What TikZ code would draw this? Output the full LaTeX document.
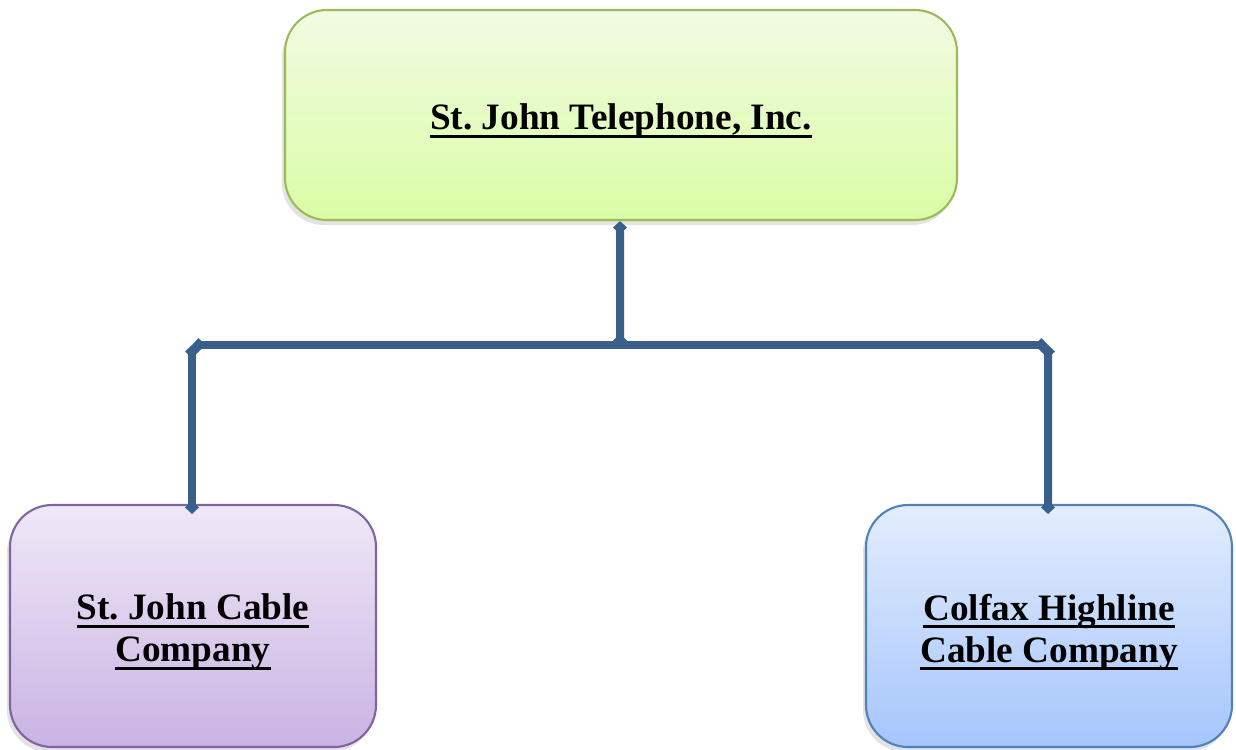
\documentclass[tikz,border=0pt]{standalone}
\usepackage{fontspec}
\setmainfont{Liberation Serif}
\usetikzlibrary{arrows.meta,shadows}

\newcommand{\ulbox}[1]{\setbox0\hbox{#1}\rlap{\rule[-2.3pt]{\wd0}{0.9pt}}\box0}

\definecolor{linkblue}{HTML}{3A5F8B}
\definecolor{greenline}{HTML}{9BBB59}
\definecolor{purpleline}{HTML}{8064A2}
\definecolor{blueline}{HTML}{4F81BD}

\tikzset{
  orgbox/.style={rounded corners=0.42cm, line width=0.6pt, inner sep=0pt,
    drop shadow={shadow xshift=-0.03cm, shadow yshift=-0.05cm, opacity=0.22}},
  orgtext/.style={align=center, inner sep=0pt, yshift=-0.06cm,
    font=\fontsize{10.6}{12}\selectfont\bfseries\frenchspacing},
  link/.style={linkblue, line width=0.08cm, {Diamond[length=0.13cm,width=0.14cm]}-{Diamond[length=0.13cm,width=0.14cm]}}
}

\begin{document}
\begin{tikzpicture}

\useasboundingbox (0,0) rectangle (12.36,7.49);

% parent company
\node[orgbox, draw=greenline, top color={rgb,255:red,241;green,251;blue,226}, bottom color={rgb,255:red,218;green,252;blue,165},
  minimum width=6.72cm, minimum height=2.10cm] (tel) at (6.21,6.34) {};
\node[orgtext] (telname) at (tel) {\ulbox{St. John Telephone, Inc.}};

% subsidiaries
\node[orgbox, draw=purpleline, top color={rgb,255:red,239;green,232;blue,247}, bottom color={rgb,255:red,201;green,179;blue,227},
  minimum width=3.66cm, minimum height=2.42cm] (cab) at (1.93,1.23) {};
\node[orgtext] (cabname) at (cab) {\ulbox{St. John Cable}\\\ulbox{Company}};

\node[orgbox, draw=blueline, top color={rgb,255:red,227;green,237;blue,253}, bottom color={rgb,255:red,165;green,197;blue,251},
  minimum width=3.66cm, minimum height=2.42cm] (col) at (10.49,1.23) {};
\node[orgtext] (colname) at (col) {\ulbox{Colfax Highline}\\\ulbox{Cable Company}};

\coordinate (mid) at (6.20,4.02);
\coordinate (jl) at (1.92,4.04);
\coordinate (jr) at (10.48,4.04);

\draw[link] ([xshift=-0.01cm]tel.south) -- (mid);
\draw[link] (jl) -- (jr);
\draw[link] (jl) -- ([xshift=-0.01cm,yshift=-0.1cm]cab.north);
\draw[link] (jr) -- ([xshift=-0.01cm,yshift=-0.1cm]col.north);

\end{tikzpicture}
\end{document}
